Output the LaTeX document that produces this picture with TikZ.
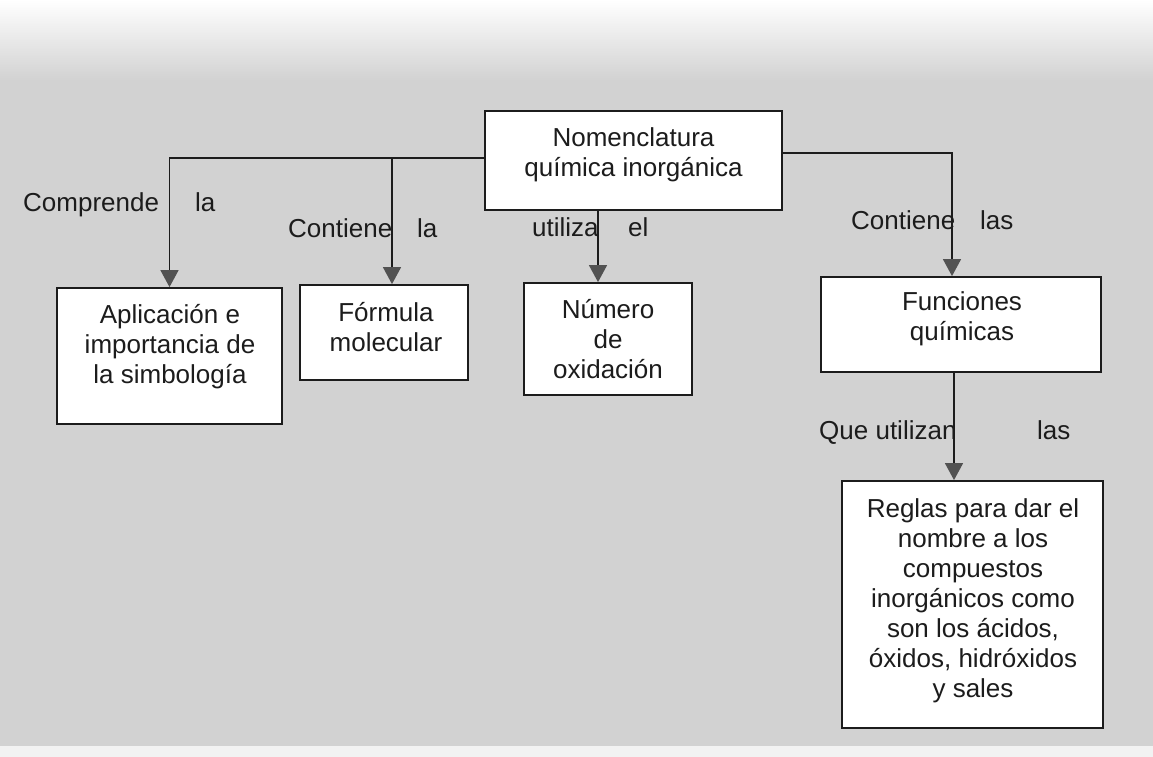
\documentclass[tikz,border=0pt]{standalone}
\usepackage{fontspec}
\setmainfont{Liberation Sans}
\usetikzlibrary{arrows.meta}

\definecolor{paper}{RGB}{210,210,210}
\definecolor{ink}{RGB}{28,28,28}
\definecolor{tipgray}{RGB}{82,82,82}

\tikzset{
  box/.style={draw=ink, line width=1.8pt, fill=white, inner sep=0pt},
  txt/.style={text=ink, font=\fontsize{26}{30}\selectfont, align=center, inner sep=0pt},
  lbl/.style={text=ink, font=\fontsize{26}{30}\selectfont, inner sep=0pt, anchor=base west},
  link/.style={draw=ink, line width=1.4pt, -{Triangle[width=18pt,length=17pt,color=tipgray]}},
}

\begin{document}
\begin{tikzpicture}[x=1pt,y=-1pt]
\useasboundingbox (0,0) rectangle (1153,757);

% paper background
\fill[paper] (0,0) rectangle (1153,757);
\shade[top color=white, bottom color=paper] (0,0) rectangle (1153,80);
\fill[gray!10] (0,746) rectangle (1153,757);

% boxes
\node[box, minimum width=297pt, minimum height=99pt]  (N)  at (633.5,160.5) {};
\node[box, minimum width=225pt, minimum height=136pt] (A)  at (169.5,356) {};
\node[box, minimum width=168pt, minimum height=95pt]  (F)  at (384,332.5) {};
\node[box, minimum width=168pt, minimum height=112pt] (O)  at (608,339) {};
\node[box, minimum width=280pt, minimum height=95pt]  (Fu) at (961,324.5) {};
\node[box, minimum width=261pt, minimum height=247pt] (R)  at (972.5,604.5) {};

% box texts
\node[txt] (Nt)  at (633.5,155) {Nomenclatura\\química inorgánica};
\node[txt] (At)  at (170,347)   {Aplicación e\\importancia de\\la simbología};
\node[txt] (Ft)  at (386,327.5) {Fórmula\\molecular};
\node[txt] (Ot)  at (608,339)   {Número\\de\\oxidación};
\node[txt] (Fut) at (962,319)   {Funciones\\químicas};
\node[txt] (Rt)  at (973,601)   {Reglas para dar el\\nombre a los\\compuestos\\inorgánicos como\\son los ácidos,\\óxidos, hidróxidos\\y sales};

% branch points
\coordinate (tapL) at ([yshift=2.5pt]N.west);
\coordinate (tapR) at ([yshift=7.5pt]N.east);
\coordinate (j1) at (392,0);
\coordinate (j3) at (598,0);
\coordinate (j4) at (952,0);
\coordinate (j5) at (954,0);

% connectors
\draw[link] (tapL) -| (A.north);
\draw[link] (tapL -| j1) -- (F.north -| j1);
\draw[link] (N.south -| j3) -- (O.north -| j3);
\draw[link] (tapR) -| (Fu.north -| j4);
\draw[link] (Fu.south -| j5) -- (R.north -| j5);

% connector labels
\node[lbl] (l1a) at (23,211)   {Comprende};
\node[lbl] (l1b) at (195,211)  {la};
\node[lbl] (l2a) at (288,237)  {Contiene};
\node[lbl] (l2b) at (417,237)  {la};
\node[lbl] (l3a) at (532,236)  {utiliza};
\node[lbl] (l3b) at (628,236)  {el};
\node[lbl] (l4a) at (851,229)  {Contiene};
\node[lbl] (l4b) at (980,229)  {las};
\node[lbl] (l5a) at (819,439)  {Que utilizan};
\node[lbl] (l5b) at (1037,439) {las};
\end{tikzpicture}
\end{document}
